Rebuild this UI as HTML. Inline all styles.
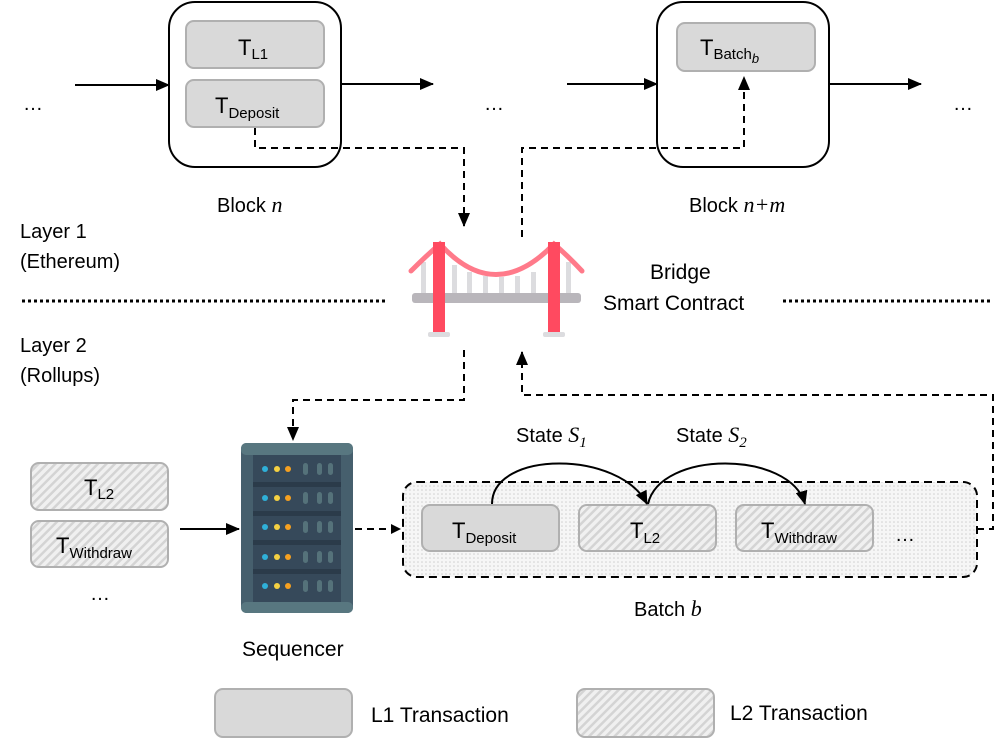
<!DOCTYPE html>
<html><head><meta charset="utf-8"><style>
body{margin:0;background:#fff;}
svg{display:block;font-family:"Liberation Sans","DejaVu Sans",sans-serif;}
</style></head><body>
<svg width="997" height="747" viewBox="0 0 997 747" xmlns="http://www.w3.org/2000/svg">
<defs>
<pattern id="hatch" width="6" height="6" patternUnits="userSpaceOnUse" patternTransform="rotate(45)">
<rect width="6" height="6" fill="#f0f0f0"/><rect width="2.5" height="6" fill="#d4d4d4"/>
</pattern>
<pattern id="dots" width="4" height="4" patternUnits="userSpaceOnUse">
<rect width="4" height="4" fill="#f6f6f6"/><circle cx="2" cy="2" r="0.8" fill="#d0d0d0"/>
</pattern>
<marker id="ar" markerWidth="10" markerHeight="10" refX="9" refY="5" orient="auto" markerUnits="userSpaceOnUse"><path d="M0,0 L10,5 L0,10 z" fill="#000"/></marker>
<marker id="ar2" markerWidth="14" markerHeight="12" refX="13" refY="6" orient="auto" markerUnits="userSpaceOnUse"><path d="M0,0 L14,6 L0,12 z" fill="#000"/></marker>
</defs>

<text x="23" y="110" font-size="20">…</text>
<line x1="75" y1="85" x2="169" y2="85" stroke="#000" stroke-width="2" marker-end="url(#ar2)"/>
<rect x="169" y="2" width="172" height="165" rx="26" fill="#fff" stroke="#000" stroke-width="2"/>
<rect x="186" y="21" width="138" height="47" rx="8" fill="#d9d9d9" stroke="#b0b0b0" stroke-width="2"/>
<text x="238" y="55" font-size="22">T<tspan font-size="15" dy="4">L1</tspan></text>
<rect x="186" y="80" width="138" height="47" rx="8" fill="#d9d9d9" stroke="#b0b0b0" stroke-width="2"/>
<text x="215" y="113" font-size="22">T<tspan font-size="15" dy="5">Deposit</tspan></text>
<line x1="341" y1="84" x2="433" y2="84" stroke="#000" stroke-width="2" marker-end="url(#ar2)"/>
<text x="484" y="110" font-size="20">…</text>
<text x="217" y="212" font-size="20">Block <tspan font-family="Liberation Serif" font-style="italic" font-size="22">n</tspan></text>

<line x1="567" y1="84" x2="657" y2="84" stroke="#000" stroke-width="2" marker-end="url(#ar2)"/>
<rect x="657" y="2" width="172" height="165" rx="26" fill="#fff" stroke="#000" stroke-width="2"/>
<rect x="677" y="23" width="138" height="48" rx="8" fill="#d9d9d9" stroke="#b0b0b0" stroke-width="2"/>
<text x="700" y="55" font-size="22">T<tspan font-size="15" dy="4">Batch</tspan><tspan font-size="13" dy="4" font-style="italic">b</tspan></text>
<line x1="829" y1="84" x2="921" y2="84" stroke="#000" stroke-width="2" marker-end="url(#ar2)"/>
<text x="953" y="110" font-size="20">…</text>
<text x="689" y="212" font-size="20">Block <tspan font-family="Liberation Serif" font-style="italic" font-size="22">n+m</tspan></text>

<polyline points="255,128 255,148 464,148 464,226" fill="none" stroke="#000" stroke-width="2" stroke-dasharray="7,5" marker-end="url(#ar2)"/>
<polyline points="522,237 522,148 744,148 744,77" fill="none" stroke="#000" stroke-width="2" stroke-dasharray="7,5" marker-end="url(#ar2)"/>

<text x="20" y="238" font-size="20">Layer 1</text>
<text x="20" y="268" font-size="20">(Ethereum)</text>
<text x="20" y="352" font-size="20">Layer 2</text>
<text x="20" y="382" font-size="20">(Rollups)</text>
<line x1="22" y1="301" x2="388" y2="301" stroke="#000" stroke-width="3" stroke-dasharray="3,3"/>
<line x1="783" y1="301" x2="993" y2="301" stroke="#000" stroke-width="3" stroke-dasharray="3,3"/>
<text x="650" y="279" font-size="21">Bridge</text>
<text x="603" y="310" font-size="21">Smart Contract</text>

<g>
<g fill="#dcdcdf">
<rect x="421" y="262" width="5" height="36"/><rect x="452" y="265" width="5" height="33"/><rect x="467" y="272" width="5" height="26"/><rect x="483" y="276" width="5" height="22"/><rect x="499" y="277" width="5" height="21"/><rect x="515" y="276" width="5" height="22"/><rect x="531" y="272" width="5" height="26"/><rect x="566" y="262" width="5" height="36"/>
</g>
<path d="M411,271 Q427,255 440,244 Q495,305 554,244 Q567,255 582,271" fill="none" stroke="#ff7a8a" stroke-width="5" stroke-linecap="round"/>
<rect x="412" y="293" width="169" height="10" rx="3" fill="#b9b6bb"/>
<rect x="433" y="242" width="12" height="92" fill="#ff4a60"/>
<rect x="548" y="242" width="12" height="92" fill="#ff4a60"/>
<rect x="428" y="332" width="22" height="5" rx="2" fill="#dcdcdf"/>
<rect x="543" y="332" width="22" height="5" rx="2" fill="#dcdcdf"/>
</g>

<polyline points="464,350 464,400 293,400 293,440" fill="none" stroke="#000" stroke-width="2" stroke-dasharray="7,5" marker-end="url(#ar2)"/>
<polyline points="977,529 993,529 993,395 522,395 522,352" fill="none" stroke="#000" stroke-width="2" stroke-dasharray="7,5" marker-end="url(#ar2)"/>

<rect x="31" y="463" width="137" height="47" rx="8" fill="url(#hatch)" stroke="#b0b0b0" stroke-width="2"/>
<text x="84" y="495" font-size="22">T<tspan font-size="15" dy="4">L2</tspan></text>
<rect x="31" y="521" width="137" height="46" rx="8" fill="url(#hatch)" stroke="#b0b0b0" stroke-width="2"/>
<text x="56" y="553" font-size="22">T<tspan font-size="15" dy="5">Withdraw</tspan></text>
<text x="90" y="600" font-size="20">…</text>
<line x1="180" y1="529" x2="239" y2="529" stroke="#000" stroke-width="2" marker-end="url(#ar2)"/>

<rect x="241" y="443" width="112" height="170" rx="6" fill="#465f6d"/>
<rect x="241" y="443" width="112" height="12" rx="5" fill="#587780"/>
<rect x="241" y="602" width="112" height="11" rx="5" fill="#587780"/>
<rect x="253" y="455" width="88" height="147" fill="#36495a"/>
<rect x="253" y="482" width="88" height="5" fill="#2b3b4a"/>
<rect x="253" y="511" width="88" height="5" fill="#2b3b4a"/>
<rect x="253" y="540" width="88" height="5" fill="#2b3b4a"/>
<rect x="253" y="569" width="88" height="5" fill="#2b3b4a"/>
<g><circle cx="265" cy="469" r="3" fill="#2fb0d8"/><circle cx="277" cy="469" r="3" fill="#f5d142"/><circle cx="288" cy="469" r="3" fill="#f5a020"/><rect x="303" y="463" width="5" height="12" rx="2.5" fill="#55727a"/><rect x="317" y="463" width="5" height="12" rx="2.5" fill="#55727a"/><rect x="328" y="463" width="5" height="12" rx="2.5" fill="#55727a"/></g>
<g transform="translate(0,29)"><circle cx="265" cy="469" r="3" fill="#2fb0d8"/><circle cx="277" cy="469" r="3" fill="#f5d142"/><circle cx="288" cy="469" r="3" fill="#f5a020"/><rect x="303" y="463" width="5" height="12" rx="2.5" fill="#55727a"/><rect x="317" y="463" width="5" height="12" rx="2.5" fill="#55727a"/><rect x="328" y="463" width="5" height="12" rx="2.5" fill="#55727a"/></g>
<g transform="translate(0,58)"><circle cx="265" cy="469" r="3" fill="#2fb0d8"/><circle cx="277" cy="469" r="3" fill="#f5d142"/><circle cx="288" cy="469" r="3" fill="#f5a020"/><rect x="303" y="463" width="5" height="12" rx="2.5" fill="#55727a"/><rect x="317" y="463" width="5" height="12" rx="2.5" fill="#55727a"/><rect x="328" y="463" width="5" height="12" rx="2.5" fill="#55727a"/></g>
<g transform="translate(0,88)"><circle cx="265" cy="469" r="3" fill="#2fb0d8"/><circle cx="277" cy="469" r="3" fill="#f5d142"/><circle cx="288" cy="469" r="3" fill="#f5a020"/><rect x="303" y="463" width="5" height="12" rx="2.5" fill="#55727a"/><rect x="317" y="463" width="5" height="12" rx="2.5" fill="#55727a"/><rect x="328" y="463" width="5" height="12" rx="2.5" fill="#55727a"/></g>
<g transform="translate(0,117)"><circle cx="265" cy="469" r="3" fill="#2fb0d8"/><circle cx="277" cy="469" r="3" fill="#f5d142"/><circle cx="288" cy="469" r="3" fill="#f5a020"/><rect x="303" y="463" width="5" height="12" rx="2.5" fill="#55727a"/><rect x="317" y="463" width="5" height="12" rx="2.5" fill="#55727a"/><rect x="328" y="463" width="5" height="12" rx="2.5" fill="#55727a"/></g>
<text x="242" y="656" font-size="21">Sequencer</text>

<line x1="355" y1="529" x2="400" y2="529" stroke="#000" stroke-width="2" stroke-dasharray="7,5" marker-end="url(#ar)"/>

<rect x="403" y="482" width="574" height="95" rx="14" fill="url(#dots)" stroke="#000" stroke-width="2" stroke-dasharray="8,5"/>
<rect x="422" y="505" width="137" height="46" rx="8" fill="#d9d9d9" stroke="#b0b0b0" stroke-width="2"/>
<text x="452" y="538" font-size="22">T<tspan font-size="15" dy="5">Deposit</tspan></text>
<rect x="579" y="505" width="137" height="46" rx="8" fill="url(#hatch)" stroke="#b0b0b0" stroke-width="2"/>
<text x="630" y="538" font-size="22">T<tspan font-size="15" dy="5">L2</tspan></text>
<rect x="736" y="505" width="137" height="46" rx="8" fill="url(#hatch)" stroke="#b0b0b0" stroke-width="2"/>
<text x="761" y="538" font-size="22">T<tspan font-size="15" dy="5">Withdraw</tspan></text>
<text x="895" y="541" font-size="20">…</text>
<path d="M492,504 C492,450 620,450 647,504" fill="none" stroke="#000" stroke-width="2" marker-end="url(#ar2)"/>
<path d="M648,504 C660,450 790,450 805,504" fill="none" stroke="#000" stroke-width="2" marker-end="url(#ar2)"/>
<text x="516" y="442" font-size="20">State <tspan font-family="Liberation Serif" font-style="italic" font-size="22">S</tspan><tspan font-family="Liberation Serif" font-style="italic" font-size="15" dy="5">1</tspan></text>
<text x="676" y="442" font-size="20">State <tspan font-family="Liberation Serif" font-style="italic" font-size="22">S</tspan><tspan font-family="Liberation Serif" font-style="italic" font-size="15" dy="5">2</tspan></text>
<text x="634" y="616" font-size="20">Batch <tspan font-family="Liberation Serif" font-style="italic" font-size="22">b</tspan></text>

<rect x="215" y="689" width="137" height="48" rx="8" fill="#d9d9d9" stroke="#b0b0b0" stroke-width="2"/>
<text x="371" y="722" font-size="21">L1 Transaction</text>
<rect x="577" y="689" width="137" height="48" rx="8" fill="url(#hatch)" stroke="#b0b0b0" stroke-width="2"/>
<text x="730" y="720" font-size="21">L2 Transaction</text>
</svg>
</body></html>
